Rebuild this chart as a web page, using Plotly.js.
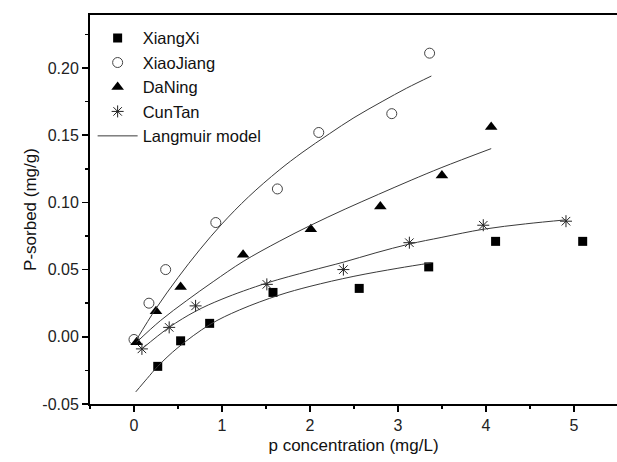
<!DOCTYPE html>
<html>
<head>
<meta charset="utf-8">
<script src="https://cdn.plot.ly/plotly-3.0.1.min.js"></script>
<style>html,body{margin:0;padding:0;background:#fff;}#chart{width:617px;height:462px;}</style>
</head>
<body>
<div id="chart"></div>
<script>
// Measured points
const xiangXiX = [0.27, 0.53, 0.86, 1.58, 2.56, 3.35, 4.11, 5.10];
const xiangXiY = [-0.022, -0.003, 0.010, 0.033, 0.036, 0.052, 0.071, 0.071];
const xiaoJiangX = [0.00, 0.17, 0.36, 0.93, 1.63, 2.10, 2.93, 3.36];
const xiaoJiangY = [-0.002, 0.025, 0.050, 0.085, 0.110, 0.152, 0.166, 0.211];
const daNingX = [0.03, 0.25, 0.53, 1.24, 2.01, 2.80, 3.50, 4.06];
const daNingY = [-0.004, 0.019, 0.037, 0.061, 0.080, 0.097, 0.120, 0.156];
const cunTanX = [0.09, 0.40, 0.70, 1.51, 2.38, 3.13, 3.97, 4.91];
const cunTanY = [-0.009, 0.007, 0.023, 0.039, 0.050, 0.070, 0.083, 0.086];

// Langmuir model curves
const fitXiangXiX = [0.02, 0.15, 0.27, 0.50, 0.86, 1.20, 1.65, 2.00, 2.50, 3.00, 3.38];
const fitXiangXiY = [-0.041, -0.031, -0.022, -0.008, 0.009, 0.020, 0.031, 0.0375, 0.045, 0.051, 0.055];
const fitXiaoJiangX = [0.03, 0.25, 0.50, 0.75, 1.00, 1.30, 1.65, 1.91, 2.22, 2.50, 2.82, 3.10, 3.38];
const fitXiaoJiangY = [-0.002, 0.021, 0.044, 0.065, 0.084, 0.104, 0.124, 0.137, 0.151, 0.163, 0.175, 0.185, 0.194];
const fitDaNingX = [0.03, 0.30, 0.60, 0.90, 1.24, 1.65, 2.01, 2.40, 2.78, 3.15, 3.50, 4.06];
const fitDaNingY = [-0.004, 0.012, 0.027, 0.041, 0.056, 0.071, 0.083, 0.095, 0.106, 0.1165, 0.126, 0.140];
const fitCunTanX = [0.09, 0.40, 0.70, 1.00, 1.51, 2.00, 2.38, 2.75, 3.13, 3.50, 3.97, 4.45, 4.91];
const fitCunTanY = [-0.009, 0.007, 0.019, 0.028, 0.040, 0.049, 0.0555, 0.0625, 0.069, 0.074, 0.080, 0.084, 0.087];

const seriesNames = ["XiangXi", "XiaoJiang", "DaNing", "CunTan"];
const modelName = "Langmuir model";
const xTitle = "p concentration (mg/L)";
const yTitle = "P-sorbed (mg/g)";

const lineStyle = {color: "#3a3a3a", width: 1};
const traces = [
  {x: xiangXiX, y: xiangXiY, name: seriesNames[0], mode: "markers", type: "scatter",
   marker: {symbol: "square", size: 9, color: "#000"}},
  {x: xiaoJiangX, y: xiaoJiangY, name: seriesNames[1], mode: "markers", type: "scatter",
   marker: {symbol: "circle-open", size: 10, color: "#444", line: {width: 1, color: "#444"}}},
  {x: daNingX, y: daNingY, name: seriesNames[2], mode: "markers", type: "scatter",
   marker: {symbol: "triangle-up", size: 11, color: "#000"}},
  {x: cunTanX, y: cunTanY, name: seriesNames[3], mode: "markers", type: "scatter",
   marker: {symbol: "asterisk-open", size: 10, color: "#222", line: {width: 1, color: "#222"}}},
  {x: fitXiangXiX, y: fitXiangXiY, name: modelName, mode: "lines", type: "scatter",
   line: Object.assign({shape: "spline"}, lineStyle), showlegend: true},
  {x: fitXiaoJiangX, y: fitXiaoJiangY, name: modelName, mode: "lines", type: "scatter",
   line: Object.assign({shape: "spline"}, lineStyle), showlegend: false},
  {x: fitDaNingX, y: fitDaNingY, name: modelName, mode: "lines", type: "scatter",
   line: Object.assign({shape: "spline"}, lineStyle), showlegend: false},
  {x: fitCunTanX, y: fitCunTanY, name: modelName, mode: "lines", type: "scatter",
   line: Object.assign({shape: "spline"}, lineStyle), showlegend: false}
];

const font = {family: "Liberation Sans, Arial, sans-serif", size: 16, color: "#222"};
const layout = {
  width: 617, height: 462,
  margin: {l: 90, r: 0, t: 15, b: 58},
  paper_bgcolor: "#fff", plot_bgcolor: "#fff",
  font: font,
  showlegend: true,
  legend: {x: 0.005, y: 0.985, xanchor: "left", yanchor: "top", bgcolor: "rgba(0,0,0,0)",
           font: {family: font.family, size: 16.5, color: "#111"}, tracegroupgap: 0, itemwidth: 40},
  xaxis: {
    range: [-0.5, 5.49], showgrid: false, zeroline: false,
    showline: true, linecolor: "#000", linewidth: 2, mirror: true,
    ticks: "outside", ticklen: 6, tickwidth: 1.5, tickcolor: "#000",
    tickvals: [0, 1, 2, 3, 4, 5], ticktext: ["0", "1", "2", "3", "4", "5"],
    minor: {tickvals: [-0.5, 0.5, 1.5, 2.5, 3.5, 4.5], ticks: "outside", ticklen: 3, tickwidth: 1.5, tickcolor: "#000"},
    tickfont: {family: font.family, size: 16, color: "#222"},
    title: {text: xTitle, font: {family: font.family, size: 17, color: "#111"}, standoff: 6}
  },
  yaxis: {
    range: [-0.05, 0.2394], showgrid: false, zeroline: false,
    showline: true, linecolor: "#000", linewidth: 2, mirror: false,
    ticks: "outside", ticklen: 6, tickwidth: 1.5, tickcolor: "#000",
    tickvals: [-0.05, 0, 0.05, 0.10, 0.15, 0.20],
    ticktext: ["-0.05", "0.00", "0.05", "0.10", "0.15", "0.20"],
    minor: {tickvals: [-0.025, 0.025, 0.075, 0.125, 0.175, 0.225], ticks: "outside", ticklen: 3, tickwidth: 1.5, tickcolor: "#000"},
    tickfont: {family: font.family, size: 16, color: "#222"},
    title: {text: yTitle, font: {family: font.family, size: 17, color: "#111"}, standoff: 1}
  }
};

Plotly.newPlot("chart", traces, layout, {displayModeBar: false, staticPlot: true});
</script>
</body>
</html>
